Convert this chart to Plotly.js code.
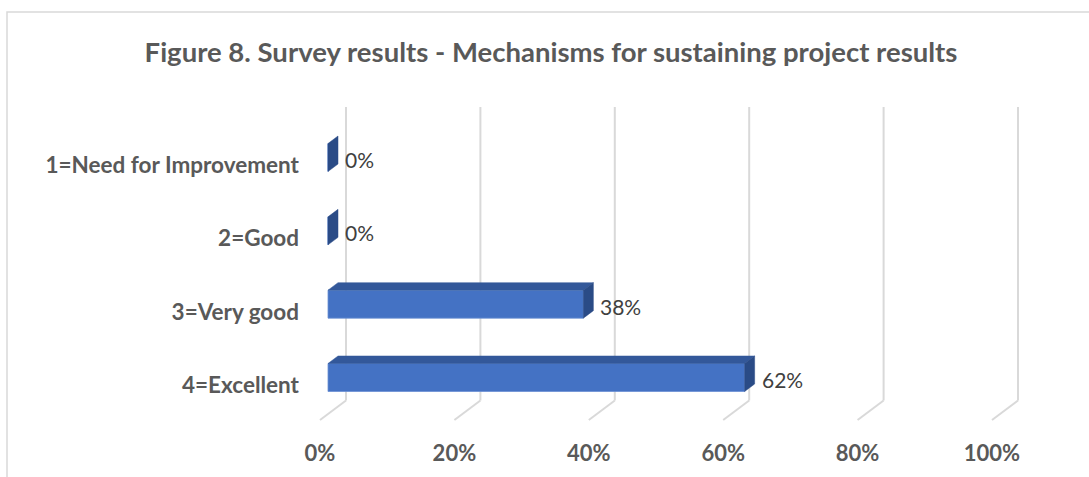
<!DOCTYPE html>
<html>
<head>
<meta charset="utf-8">
<script src="https://cdn.plot.ly/plotly-3.0.1.min.js"></script>
<style>
html,body{margin:0;padding:0;background:#fff;}
#chart{width:1089px;height:477px;}
</style>
</head>
<body>
<div id="chart"></div>
<script>
// ---- data ----
const categories = ["1=Need for Improvement", "2=Good", "3=Very good", "4=Excellent"];
const values = [0, 0, 0.38, 0.62];
const valueLabels = ["0%", "0%", "38%", "62%"];
const xTickValues = [0, 0.2, 0.4, 0.6, 0.8, 1.0];
const xTickLabels = ["0%", "20%", "40%", "60%", "80%", "100%"];
const titleText = "Figure 8. Survey results - Mechanisms for sustaining project results";

// ---- geometry (pixels) ----
const W = 1089, H = 477;
const M = {l: 300, r: 59, t: 100, b: 47};
const plotW = W - M.l - M.r, plotH = H - M.t - M.b;
const pxX = 672;               // pixels per 100% on the front plane
const zeroPx = 328;            // pixel of 0% on the front plane
const pxCat = 73.33;           // pixels per category
const firstCatPx = 157.5;      // pixel centre of first bar face
const x0 = -(zeroPx - M.l) / pxX, x1 = x0 + plotW / pxX;
const yBottom = (M.t + plotH - firstCatPx) / pxCat, yTop = (M.t - firstCatPx) / pxCat;
const ux = p => p / pxX, uy = p => p / pxCat;
const yPix = p => (p - firstCatPx) / pxCat;

const barW = uy(28);
const depthX = ux(10), depthY = uy(7.5);

const idx = categories.map((c, i) => i);

const traces = [];
// front faces
traces.push({
  type: 'bar', orientation: 'h', x: values, y: idx, width: barW,
  marker: {color: '#4472C4', line: {color: '#6A8FD3', width: 0.8}},
  hoverinfo: 'skip', showlegend: false
});
// top faces and end faces
values.forEach((v, i) => {
  const yt = i - barW / 2;
  if (v > 0) {
    traces.push({
      type: 'scatter', mode: 'lines', fill: 'toself', fillcolor: '#33589A',
      line: {color: '#33589A', width: 0.5},
      x: [0, v, v + depthX, depthX, 0],
      y: [yt, yt, yt - depthY, yt - depthY, yt],
      hoverinfo: 'skip', showlegend: false
    });
  }
  traces.push({
    type: 'scatter', mode: 'lines', fill: 'toself', fillcolor: '#2A4B86',
    line: {color: '#2A4B86', width: 0.5},
    x: [v, v + depthX, v + depthX, v, v],
    y: [yt, yt - depthY, yt + barW - depthY, yt + barW, yt],
    hoverinfo: 'skip', showlegend: false
  });
});

// gridlines (back wall + floor)
const shapes = [];
const gTop = yPix(107), gBackBot = yPix(400.5), gFront = yPix(420);
xTickValues.forEach(t => {
  shapes.push({type: 'line', xref: 'x', yref: 'y', layer: 'below',
    x0: t + ux(18), x1: t + ux(18), y0: gTop, y1: gBackBot,
    line: {color: '#D9D9D9', width: 2}});
  shapes.push({type: 'line', xref: 'x', yref: 'y', layer: 'below',
    x0: t + ux(18), x1: t - ux(8), y0: gBackBot, y1: gFront,
    line: {color: '#D9D9D9', width: 2}});
});
// chart border (top + left)
const px2paperX = p => (p - M.l) / plotW;
const px2paperY = p => 1 - (p - M.t) / plotH;
shapes.push({type: 'path', xref: 'paper', yref: 'paper', layer: 'below',
  path: `M ${px2paperX(7)} ${px2paperY(H + 5)} L ${px2paperX(7)} ${px2paperY(12)} L ${px2paperX(W + 5)} ${px2paperY(12)}`,
  line: {color: '#D9D9D9', width: 1.5}});

// data labels
const annotations = values.map((v, i) => ({
  x: v, y: i, xref: 'x', yref: 'y', text: valueLabels[i], showarrow: false,
  xanchor: 'left', yanchor: 'middle', xshift: 15, yshift: -2,
  font: {family: 'Lato, sans-serif', size: 21, color: '#404040'}
}));

const layout = {
  width: W, height: H,
  margin: M,
  paper_bgcolor: '#ffffff', plot_bgcolor: 'rgba(0,0,0,0)',
  title: {
    text: '<b>' + titleText + '</b>',
    font: {family: 'Lato, sans-serif', size: 27.5, color: '#595959'},
    x: 551 / W, xanchor: 'center', xref: 'container',
    y: 1 - 52 / H, yanchor: 'middle', yref: 'container'
  },
  xaxis: {
    range: [x0, x1], showgrid: false, zeroline: false, showline: false,
    tickmode: 'array', tickvals: xTickValues.map(t => t - ux(8)), ticktext: xTickLabels,
    ticks: '', ticklabelstandoff: 8,
    tickfont: {family: 'Lato, sans-serif', size: 22, color: '#595959', weight: 'bold'}
  },
  yaxis: {
    range: [yBottom, yTop], showgrid: false, zeroline: false, showline: false,
    tickmode: 'array', tickvals: idx.map(i => i + uy(7.5)), ticktext: categories,
    ticks: '', ticklabelstandoff: 0,
    tickfont: {family: 'Lato, sans-serif', size: 22.5, color: '#595959', weight: 'bold'}
  },
  shapes: shapes,
  annotations: annotations,
  showlegend: false,
  bargap: 0
};

Plotly.newPlot('chart', traces, layout, {staticPlot: true, displayModeBar: false});
</script>
</body>
</html>
